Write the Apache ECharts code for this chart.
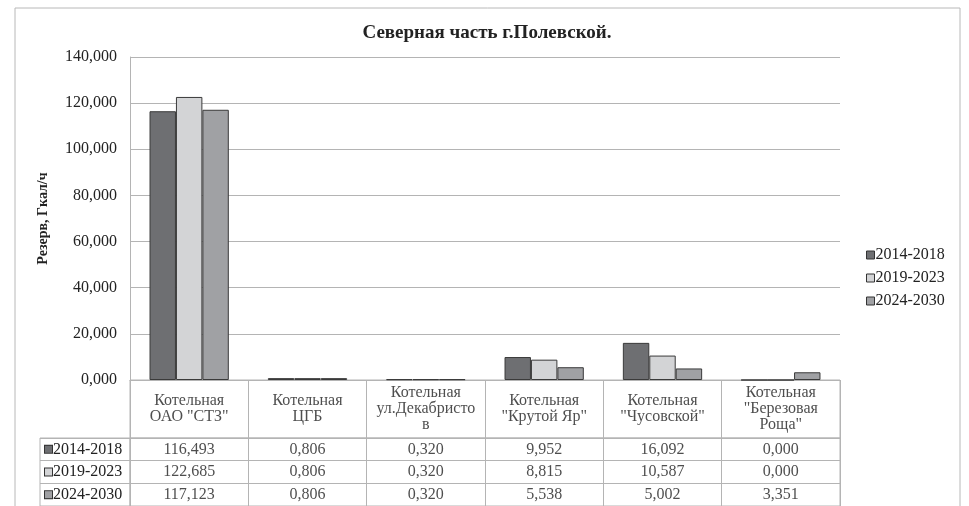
<!DOCTYPE html>
<html><head><meta charset="utf-8">
<script src="https://cdn.jsdelivr.net/npm/echarts@6/dist/echarts.min.js"></script>
<style>html,body{margin:0;padding:0;background:#fff}#c{width:969px;height:506px}</style>
</head><body><div id="c"></div>
<script>
const categories = ['Котельная\nОАО "СТЗ"','Котельная\nЦГБ','Котельная\nул.Декабристо\nв','Котельная\n"Крутой Яр"','Котельная\n"Чусовской"','Котельная\n"Березовая\nРоща"'];
const seriesNames = ['2014-2018','2019-2023','2024-2030'];
const s2014 = [116.493, 0.806, 0.320, 9.952, 16.092, 0.000];
const s2019 = [122.685, 0.806, 0.320, 8.815, 10.587, 0.000];
const s2024 = [117.123, 0.806, 0.320, 5.538, 5.002, 3.351];
const yTicks = {min: 0, max: 140, interval: 20};
const colors = ['#6e6f72','#d3d4d6','#a0a1a4'];

const values = [s2014, s2019, s2024];
const fmt = v => v.toFixed(3).replace('.', ',');
const FF = '"Liberation Serif", "DejaVu Serif", serif';
const gridCol = '#b4b4b4';

const chart = echarts.init(document.getElementById('c'));
const headerData = categories.map((c, i) => [i, 0.5]);
const cellData = [];
values.forEach((arr, r) => arr.forEach((v, i) => cellData.push([i, r, v])));
const rich = {t: {fontFamily: FF, fontSize: 16, color: '#222', padding: [0,0,0,1]}};
colors.forEach((c, i) => rich['k' + i] = {width: 7, height: 7, backgroundColor: c, borderColor: '#333', borderWidth: 1});

chart.setOption({
  animation: false,
  title: {text: 'Северная часть г.Полевской.', left: 482, top: 19, textAlign: 'center',
    textStyle: {fontFamily: FF, fontSize: 19, fontWeight: 'bold', color: '#222'}},
  graphic: [{type: 'rect', shape: {x: 15, y: 8, width: 945, height: 520}, style: {fill: 'none', stroke: '#b8b8b8', lineWidth: 1}, silent: true}],
  legend: {orient: 'vertical', left: 861, top: 242, itemWidth: 8, itemHeight: 8, itemGap: 7,
    icon: 'rect', data: seriesNames,
    itemStyle: {borderColor: '#333', borderWidth: 1},
    textStyle: {fontFamily: FF, fontSize: 16, color: '#222', padding: [0,0,0,-4]}},
  grid: [
    {left: 130, top: 57, width: 710, height: 323},
    {left: 130, top: 380, width: 710, height: 58, show: true, borderColor: gridCol, borderWidth: 1},
    {left: 130, top: 438, width: 710, height: 70, show: true, borderColor: gridCol, borderWidth: 1},
    {left: 40, top: 438, width: 90, height: 70, show: true, borderColor: gridCol, borderWidth: 1}
  ],
  xAxis: [
    {gridIndex: 0, type: 'category', data: categories, axisLabel: {show: false}, axisTick: {show: false},
      axisLine: {lineStyle: {color: gridCol}}},
    {gridIndex: 1, type: 'category', data: categories, axisLabel: {show: false}, axisTick: {show: false},
      axisLine: {show: false}, splitLine: {show: true, interval: 0, lineStyle: {color: gridCol}}},
    {gridIndex: 2, type: 'category', data: categories, axisLabel: {show: false}, axisTick: {show: false},
      axisLine: {show: false}, splitLine: {show: true, interval: 0, lineStyle: {color: gridCol}}},
    {gridIndex: 3, type: 'category', data: [''], axisLabel: {show: false}, axisTick: {show: false}, axisLine: {show: false}}
  ],
  yAxis: [
    {gridIndex: 0, type: 'value', min: yTicks.min, max: yTicks.max, interval: yTicks.interval,
      name: 'Резерв, Гкал/ч', nameLocation: 'middle', nameRotate: 90, nameGap: 80,
      nameTextStyle: {fontFamily: FF, fontSize: 14, fontWeight: 'bold', color: '#222'},
      axisLine: {show: true, lineStyle: {color: gridCol}}, axisTick: {show: false},
      axisLabel: {margin: 13, fontFamily: FF, fontSize: 16, color: '#222', formatter: v => fmt(v)},
      splitLine: {lineStyle: {color: gridCol}}},
    {gridIndex: 1, type: 'value', min: 0, max: 1, show: false},
    {gridIndex: 2, type: 'category', data: seriesNames, inverse: true, axisLabel: {show: false},
      axisTick: {show: false}, axisLine: {show: false}, splitLine: {show: true, interval: 0, lineStyle: {color: gridCol}}},
    {gridIndex: 3, type: 'category', data: seriesNames, inverse: true, axisTick: {show: false}, axisLine: {show: false},
      splitLine: {show: true, interval: 0, lineStyle: {color: gridCol}},
      axisLabel: {inside: true, margin: 5, rich: rich, formatter: (v, i) => '{k' + i + '|}{t|' + v + '}'}}
  ],
  series: [
    ...seriesNames.map((n, i) => ({
      name: n, type: 'bar', xAxisIndex: 0, yAxisIndex: 0, data: values[i],
      barGap: '0%', barCategoryGap: '33%',
      itemStyle: {color: colors[i], borderColor: '#3a3a3a', borderWidth: 1}
    })),
    {type: 'scatter', xAxisIndex: 1, yAxisIndex: 1, data: headerData, symbolSize: 1, silent: true,
      itemStyle: {color: 'rgba(0,0,0,0)'},
      label: {show: true, position: 'inside', fontFamily: FF, fontSize: 16, lineHeight: 16, color: '#222', align: 'center',
        formatter: p => categories[p.value[0]]}},
    {type: 'scatter', xAxisIndex: 2, yAxisIndex: 2, data: cellData, symbolSize: 1, silent: true,
      itemStyle: {color: 'rgba(0,0,0,0)'},
      label: {show: true, position: 'inside', fontFamily: FF, fontSize: 16, color: '#222',
        formatter: p => fmt(p.value[2])}}
  ]
});
</script></body></html>
